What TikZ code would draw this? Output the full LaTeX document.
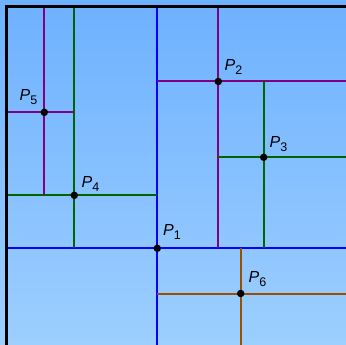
\documentclass[tikz,border=0pt]{standalone}
\usepackage{fontspec}
\setmainfont{Liberation Sans}
\definecolor{bgtop}{RGB}{110,177,255}
\definecolor{bgbot}{RGB}{157,207,255}
\definecolor{cblue}{RGB}{0,0,255}
\definecolor{cpurple}{RGB}{128,0,128}
\definecolor{cgreen}{RGB}{0,100,0}
\definecolor{cbrown}{RGB}{155,80,0}
\tikzset{
  split/.style={line width=2pt},
  pt/.style={circle,fill=black,inner sep=0pt,minimum size=7.5pt},
  lab/.style={anchor=base west,inner sep=0pt,font=\fontsize{16}{16}\selectfont},
}
\newcommand{\plab}[1]{\textit{P}\raisebox{-4pt}{\fontsize{12.5}{12.5}\selectfont #1}}
\begin{document}
\begin{tikzpicture}[x=1pt,y=-1pt]
\useasboundingbox (0,0) rectangle (346,345);
\shade[top color=bgtop,bottom color=bgbot] (0,0) rectangle (346,345);
% frame
\coordinate (TL) at (6.5,6.5);
\coordinate (TR) at (346,6.5);
\coordinate (BL) at (6.5,345);
% points
\coordinate (P1) at (157.3,248.3);
\coordinate (P2) at (218.3,81.5);
\coordinate (P3) at (263.7,157.3);
\coordinate (P4) at (74.3,195.3);
\coordinate (P5) at (44.3,112.3);
\coordinate (P6) at (240.7,293.5);
% P1 blue
\draw[split,cblue] (P1 |- TL) -- (P1 |- BL);
\draw[split,cblue] (TL |- P1) -- (TR |- P1);
% P2 purple
\draw[split,cpurple] (P1 |- P2) -- (TR |- P2);
\draw[split,cpurple] (P2 |- TL) -- (P2 |- P1);
% P3 green
\draw[split,cgreen] (P3 |- P2) -- (P3 |- P1);
\draw[split,cgreen] (P2 |- P3) -- (TR |- P3);
% P4 green
\draw[split,cgreen] (TL |- P4) -- (P1 |- P4);
\draw[split,cgreen] (P4 |- TL) -- (P4 |- P1);
% P5 purple
\draw[split,cpurple] (P5 |- TL) -- (P5 |- P4);
\draw[split,cpurple] (TL |- P5) -- (P4 |- P5);
% P6 brown
\draw[split,cbrown] (P1 |- P6) -- (TR |- P6);
\draw[split,cbrown] (P6 |- P1) -- (P6 |- BL);
% frame on top
\draw[line width=2.2pt,black] (BL) -- (TL) -- (TR);
% dots
\foreach \p in {P1,P2,P3,P4,P5,P6} \node[pt] (d\p) at (\p) {};
% labels
\node[lab] (L1) at (163,236) {\plab{1}};
\node[lab] (L2) at (224.5,71) {\plab{2}};
\node[lab] (L3) at (269.5,148) {\plab{3}};
\node[lab] (L4) at (81.5,187) {\plab{4}};
\node[lab] (L5) at (19.5,101) {\plab{5}};
\node[lab] (L6) at (248.5,282) {\plab{6}};
\end{tikzpicture}
\end{document}
